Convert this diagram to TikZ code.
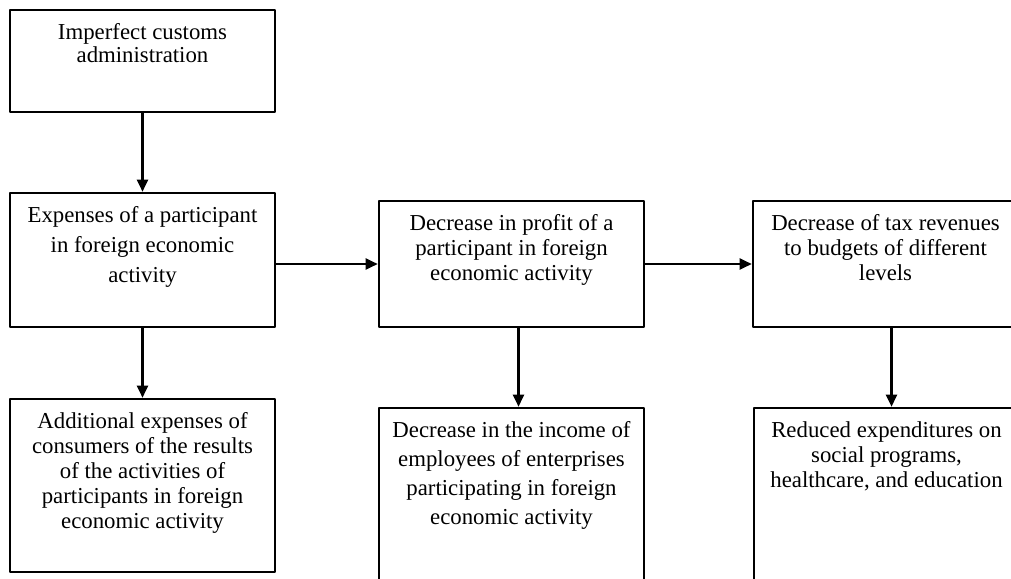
\documentclass[tikz,border=0pt]{standalone}
\usepackage{fontspec}
\setmainfont{Liberation Serif}
\usetikzlibrary{arrows.meta}
\newcommand{\boxtxt}[3][25pt]{\begin{minipage}[c][#2][t]{265pt}\centering\baselineskip=#1\rule{0pt}{29pt}#3\par\end{minipage}}
\tikzset{box/.style={draw,line width=2.6pt,inner sep=0pt},
    link/.style={->,line width=2.3pt}}
\begin{document}
\begin{tikzpicture}[x=1pt,y=-1pt,font=\fontsize{22.8}{25}\selectfont,line join=round,>={Triangle[length=12pt,width=11pt]}]%[1 unit = 1 px]
            \clip (0,0) rectangle (1011,578);
            \node[box] (customs) at (142.5,61) {\boxtxt[23pt]{102pt}{Imperfect customs\\administration}};
            \node[box] (expenses) at (142.5,260) {\boxtxt[30pt]{134pt}{Expenses of a participant\\in foreign economic\\activity}};
            \node[box] (profit) at (511.5,264) {\boxtxt{126pt}{Decrease in profit of a\\participant in foreign\\economic activity}};
            \node[box] (taxes) at (885.5,264) {\boxtxt{126pt}{Decrease of tax revenues\\to budgets of different\\levels}};
            \node[box] (consumers) at (142.5,485.5) {\boxtxt{173pt}{Additional expenses of\\consumers of the results\\of the activities of\\participants in foreign\\economic activity}};
            \node[box] (employees) at (511.5,495) {\boxtxt[29pt]{174pt}{Decrease in the income of\\employees of enterprises\\participating in foreign\\economic activity}};
            \node[box] (social) at (886.5,495) {\boxtxt{174pt}{Reduced expenditures on\\social programs,\\healthcare, and education}};
            \draw[link] (customs) -- (expenses);
            \draw[link] (expenses) -- (consumers);
            \draw[link] (profit.west -| expenses.east) -- (profit.west);
            \draw[link] (profit.east) -- (taxes.west |- profit.east);
            \draw[link] ([xshift=7pt]profit.south) -- ([xshift=7pt]employees.north);
            \draw[link] ([xshift=6pt]taxes.south) -- ([xshift=6pt]taxes.south |- social.north);
        \end{tikzpicture}
\end{document}
